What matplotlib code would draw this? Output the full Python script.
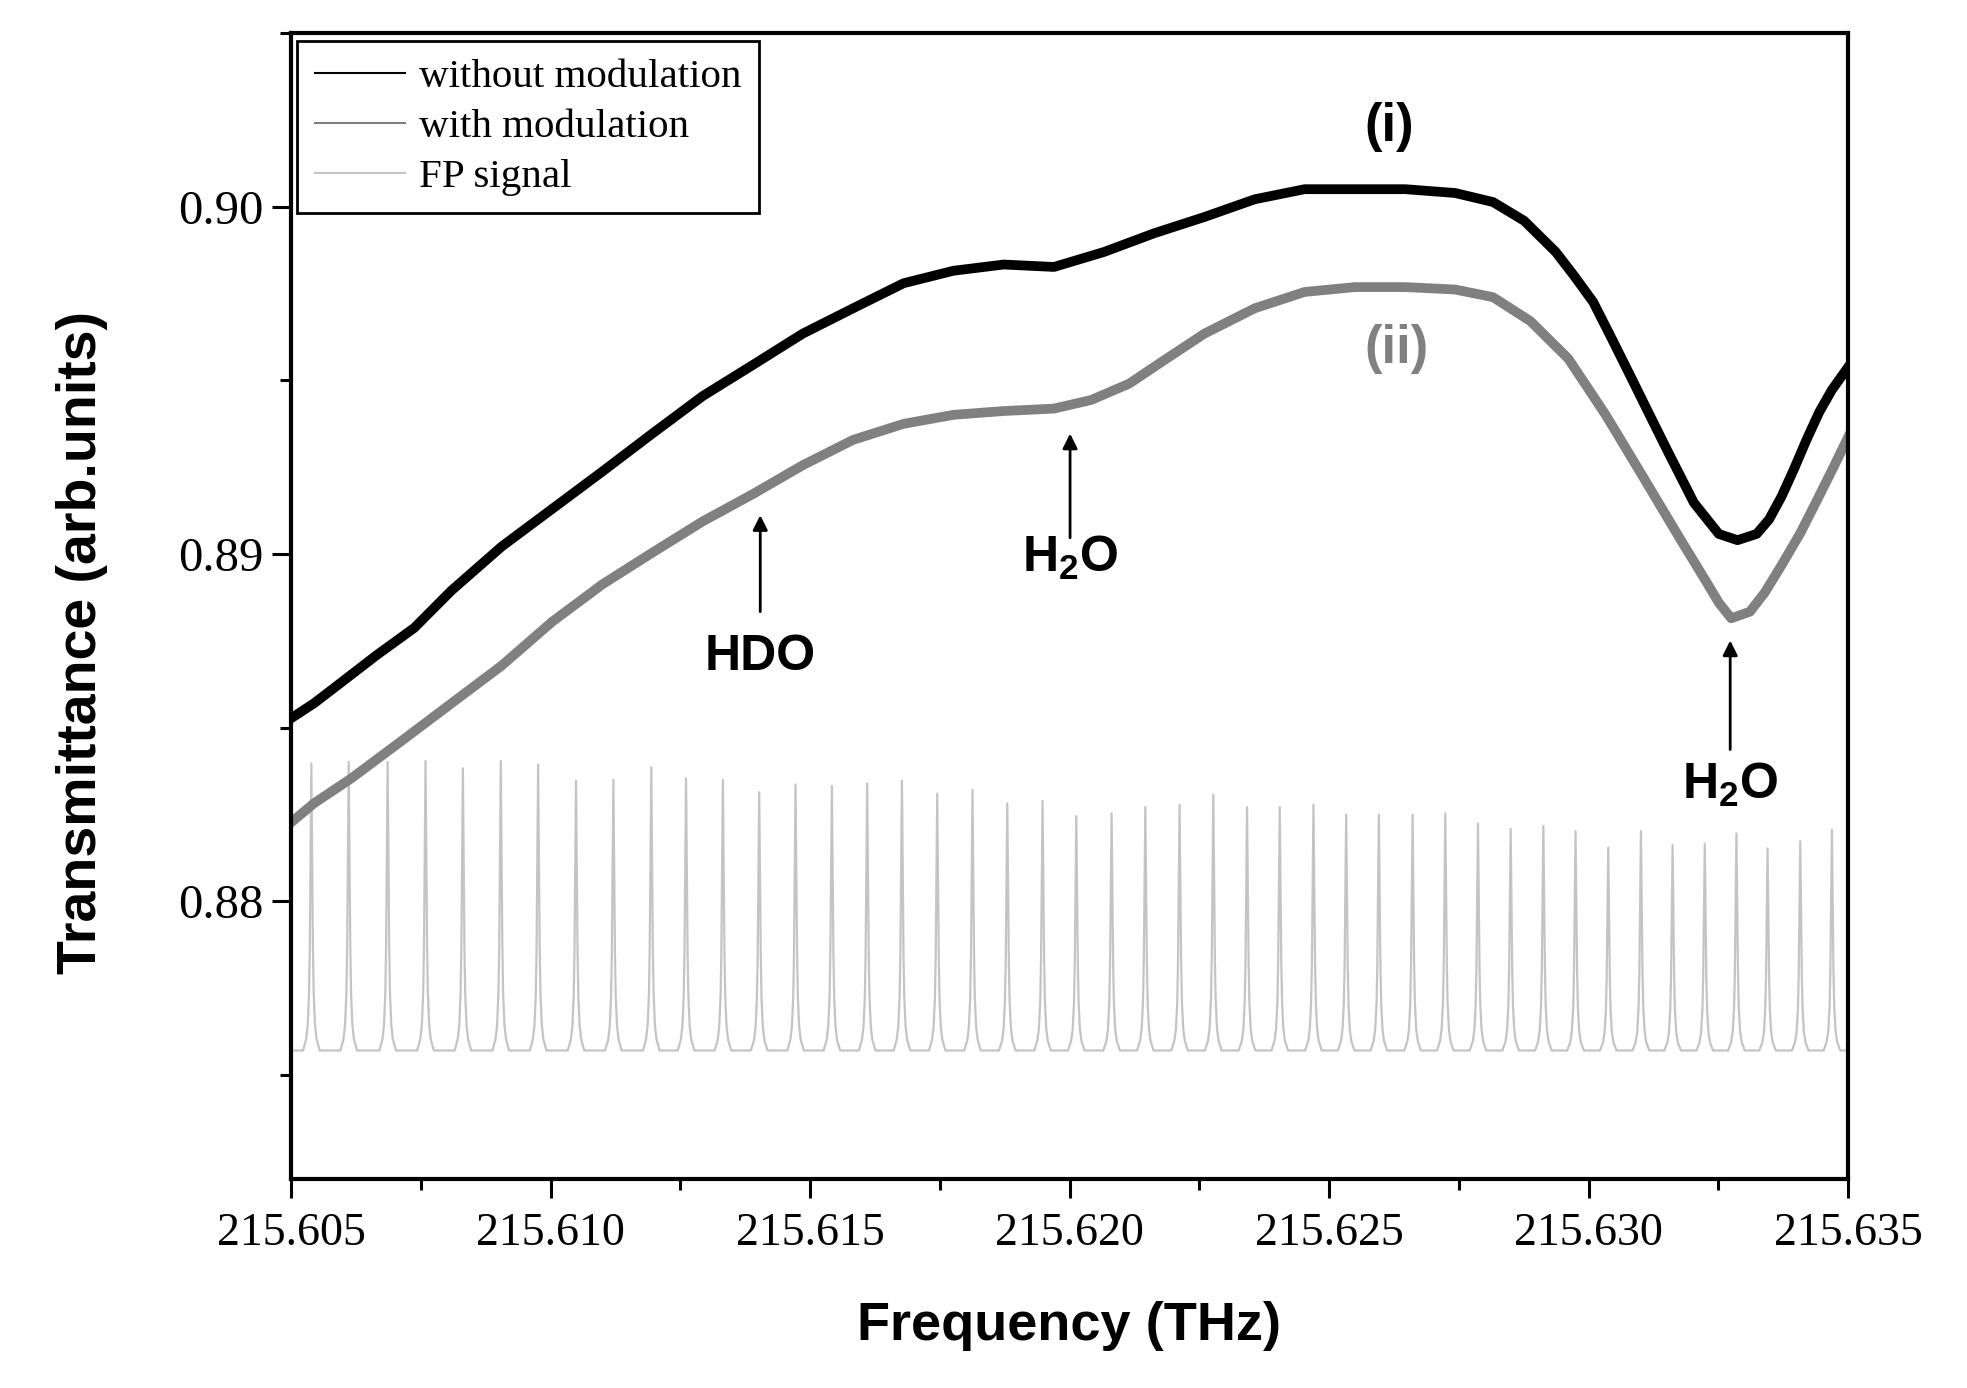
import matplotlib.pyplot as plt
from matplotlib.ticker import MultipleLocator, FormatStrFormatter

plt.rcParams['mathtext.fontset'] = 'custom'
plt.rcParams['mathtext.rm'] = 'Liberation Sans:bold'
plt.rcParams['mathtext.bf'] = 'Liberation Sans:bold'

# without modulation (i)
freq_i = [215.60500, 215.60544, 215.60592, 215.60664, 215.60737, 215.60809, 215.60906,
          215.61003, 215.61100, 215.61196, 215.61293, 215.61390, 215.61486, 215.61583,
          215.61680, 215.61776, 215.61873, 215.61970, 215.62066, 215.62163, 215.62260,
          215.62357, 215.62453, 215.62550, 215.62647, 215.62743, 215.62816, 215.62876,
          215.62937, 215.62973, 215.63009, 215.63045, 215.63082, 215.63118, 215.63154,
          215.63203, 215.63251, 215.63287, 215.63324, 215.63348, 215.63372, 215.63396,
          215.63420, 215.63445, 215.63469, 215.63500]
trans_i = [0.88527, 0.88570, 0.88625, 0.88708, 0.88787, 0.88895, 0.89022,
           0.89130, 0.89238, 0.89347, 0.89455, 0.89545, 0.89635, 0.89708,
           0.89780, 0.89816, 0.89834, 0.89827, 0.89870, 0.89924, 0.89971,
           0.90022, 0.90051, 0.90051, 0.90051, 0.90040, 0.90014, 0.89960,
           0.89870, 0.89800, 0.89726, 0.89620, 0.89509, 0.89400, 0.89292,
           0.89148, 0.89058, 0.89040, 0.89058, 0.89100, 0.89166, 0.89245,
           0.89329, 0.89410, 0.89473, 0.89538]

# with modulation (ii)
freq_ii = [215.60500, 215.60544, 215.60616, 215.60713, 215.60809, 215.60906, 215.61003,
           215.61100, 215.61196, 215.61293, 215.61390, 215.61486, 215.61583, 215.61680,
           215.61776, 215.61873, 215.61970, 215.62042, 215.62115, 215.62187, 215.62260,
           215.62357, 215.62453, 215.62550, 215.62647, 215.62743, 215.62816, 215.62888,
           215.62961, 215.63033, 215.63106, 215.63178, 215.63227, 215.63251, 215.63275,
           215.63311, 215.63340, 215.63372, 215.63408, 215.63444, 215.63472, 215.63500]
trans_ii = [0.88227, 0.88282, 0.88354, 0.88462, 0.88570, 0.88679, 0.88805,
            0.88913, 0.89004, 0.89094, 0.89173, 0.89256, 0.89329, 0.89375,
            0.89401, 0.89412, 0.89419, 0.89444, 0.89491, 0.89563, 0.89635,
            0.89708, 0.89755, 0.89769, 0.89769, 0.89762, 0.89740, 0.89671,
            0.89563, 0.89401, 0.89220, 0.89040, 0.88920, 0.88860, 0.88815,
            0.88834, 0.88890, 0.88968, 0.89060, 0.89166, 0.89250, 0.89336]

# FP transmission peaks
fp_base = 0.8757
fp_centers = [215.60539, 215.60611, 215.60686, 215.60759, 215.60831, 215.60904, 215.60976,
              215.61049, 215.61121, 215.61194, 215.61261, 215.61332, 215.61402, 215.61472,
              215.61542, 215.61610, 215.61677, 215.61745, 215.61813, 215.61880, 215.61948,
              215.62013, 215.62081, 215.62146, 215.62212, 215.62277, 215.62342, 215.62405,
              215.62470, 215.62533, 215.62596, 215.62661, 215.62724, 215.62787, 215.62850,
              215.62913, 215.62975, 215.63038, 215.63101, 215.63162, 215.63224, 215.63285,
              215.63345, 215.63408, 215.63469]
fp_heights = [0.88397, 0.88401, 0.88401, 0.88404, 0.88383, 0.88404, 0.88394,
              0.88347, 0.88350, 0.88386, 0.88354, 0.88350, 0.88314, 0.88336,
              0.88332, 0.88339, 0.88347, 0.88310, 0.88321, 0.88282, 0.88289,
              0.88245, 0.88253, 0.88271, 0.88278, 0.88307, 0.88271, 0.88271,
              0.88278, 0.88249, 0.88249, 0.88249, 0.88253, 0.88224, 0.88209,
              0.88217, 0.88202, 0.88155, 0.88202, 0.88162, 0.88166, 0.88195,
              0.88152, 0.88173, 0.88206]

# outline of one FP fringe (offset from centre in THz, fraction of height)
shape_dx = [-0.00016, -0.00010, -0.00007, -0.000045, -0.00003, -0.000015, 0.0,
            0.000015, 0.00003, 0.000045, 0.00007, 0.00010, 0.00016]
shape_frac = [0.0, 0.04, 0.09, 0.2, 0.36, 0.66, 1.0,
              0.66, 0.36, 0.2, 0.09, 0.04, 0.0]

fp_x = [215.605]
fp_y = [fp_base]
for c, h in zip(fp_centers, fp_heights):
    for dx, fr in zip(shape_dx, shape_frac):
        fp_x.append(c + dx)
        fp_y.append(fp_base + fr * (h - fp_base))
fp_x.append(215.635)
fp_y.append(fp_base)

fig = plt.figure(figsize=(19.67, 13.88), dpi=100)
ax = fig.add_axes([0.148, 0.1506, 0.7915, 0.8254])

ax.plot(fp_x, fp_y, color='#c4c4c4', lw=1.6, zorder=1)
ax.plot(freq_ii, trans_ii, color='#808080', lw=7, zorder=2, solid_joinstyle='round')
ax.plot(freq_i, trans_i, color='black', lw=7, zorder=3, solid_joinstyle='round')

# legend handles (thin lines)
h1, = ax.plot([], [], color='black', lw=1.5, label='without modulation')
h2, = ax.plot([], [], color='#808080', lw=1.5, label='with modulation')
h3, = ax.plot([], [], color='#c4c4c4', lw=1.5, label='FP signal')
leg = ax.legend(handles=[h1, h2, h3], loc='upper left', bbox_to_anchor=(0.004, 0.993),
                borderaxespad=0, fancybox=False, edgecolor='black', framealpha=1,
                prop={'family': 'Liberation Serif', 'size': 29.5}, handlelength=2.2,
                handletextpad=0.35, labelspacing=0.3, borderpad=0.42)
leg.get_frame().set_linewidth(2)

ax.set_xlim(215.605, 215.635)
ax.set_ylim(0.872, 0.905)
ax.xaxis.set_major_locator(MultipleLocator(0.005))
ax.xaxis.set_minor_locator(MultipleLocator(0.0025))
ax.yaxis.set_major_locator(MultipleLocator(0.01))
ax.yaxis.set_minor_locator(MultipleLocator(0.005))
ax.xaxis.set_major_formatter(FormatStrFormatter('%.3f'))
ax.yaxis.set_major_formatter(FormatStrFormatter('%.2f'))

ax.tick_params(which='major', direction='out', length=14, width=2.2, labelsize=33, pad=10)
ax.tick_params(which='minor', direction='out', length=8, width=2.2)
ax.tick_params(axis='y', which='major', labelsize=35, pad=6)
for lab in ax.get_xticklabels() + ax.get_yticklabels():
    lab.set_fontfamily('Liberation Serif')
for s in ax.spines.values():
    s.set_linewidth(3)

ax.set_xlabel('Frequency (THz)', fontsize=39, fontweight='bold', family='Liberation Sans')
ax.set_ylabel('Transmittance (arb.units)', fontsize=40, fontweight='bold', family='Liberation Sans')
ax.xaxis.set_label_coords(0.5, -0.128)
ax.xaxis.label.set_va('center')
ax.yaxis.set_label_coords(-0.1345, 0.4686)
ax.yaxis.label.set_va('center')

afont = dict(fontsize=36, fontweight='bold', family='Liberation Sans', ha='center', va='center')
ax.text(215.62615, 0.90231, '(i)', color='black', **dict(afont, fontsize=38))
ax.text(215.62630, 0.89592, '(ii)', color='#808080', **dict(afont, fontsize=38))

arrow = dict(arrowstyle='-|>', color='black', lw=2, mutation_scale=22, shrinkA=0, shrinkB=0)
ax.annotate('', xy=(215.61404, 0.89112), xytext=(215.61404, 0.88834), arrowprops=arrow)
ax.text(215.61404, 0.88704, 'HDO', **afont)
ax.annotate('', xy=(215.62001, 0.89347), xytext=(215.62001, 0.89047), arrowprops=arrow)
ax.text(215.62001, 0.88990, r'H$_{\mathbf{2}}$O', **afont)
ax.annotate('', xy=(215.63273, 0.88751), xytext=(215.63273, 0.88437), arrowprops=arrow)
ax.text(215.63273, 0.88336, r'H$_{\mathbf{2}}$O', **afont)

fig.savefig('out.png', dpi=100)
